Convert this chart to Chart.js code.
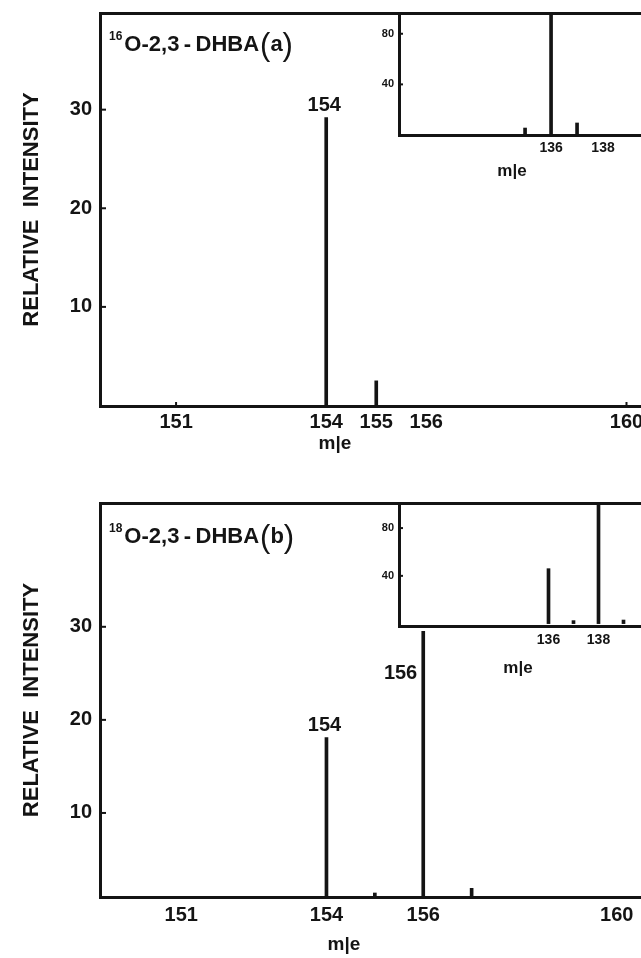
<!DOCTYPE html>
<html>
<head>
<meta charset="utf-8">
<script src="https://cdn.jsdelivr.net/npm/chart.js@4.4.0/dist/chart.umd.min.js"></script>
<style>
  html, body { margin: 0; padding: 0; background: #fff; }
  #page { position: relative; width: 641px; height: 958px; overflow: hidden; background: #fff; }
  .box { position: absolute; }
  .box canvas { display: block; }
</style>
</head>
<body>
<div id="page">
  <div class="box" style="left:0;top:0"><canvas id="main-a" width="641" height="470"></canvas></div>
  <div class="box" style="left:340px;top:0"><canvas id="inset-a" width="301" height="185"></canvas></div>
  <div class="box" style="left:0;top:490px"><canvas id="main-b" width="641" height="468"></canvas></div>
  <div class="box" style="left:340px;top:490px"><canvas id="inset-b" width="301" height="190"></canvas></div>
</div>
<script>
// spectrum (a): 16O-2,3-DHBA
const massA = [154, 155];
const intensityA = [29.2, 2.5];
const labelledA = [154];
const tickMassA = [151, 154, 155, 156, 160];
const insetMassA = [135, 136, 137];
const insetIntensityA = [5.5, 100, 9.5];

// spectrum (b): 18O-2,3-DHBA
const massB = [154, 155, 156, 157];
const intensityB = [18.1, 1.4, 29.5, 1.9];
const labelledB = [154, 156];
const tickMassB = [151, 154, 156, 160];
const insetMassB = [136, 137, 138, 139];
const insetIntensityB = [46, 2.5, 100, 3];

const tickIntensity = [10, 20, 30];
const insetTickMass = [136, 138];
const insetTickIntensity = [40, 80];

const INK = '#141414';
const FAM = "'Liberation Sans Narrow', 'Arial Narrow', 'Liberation Sans', Arial, sans-serif";

// draws the things chart.js has no option for: inward tick marks, peak labels, panel title, m|e
const notes = {
  id: 'notes',
  afterDraw(chart, args, opts) {
    const ctx = chart.ctx;
    const x = chart.scales.x;
    const y = chart.scales.y;
    ctx.save();
    ctx.fillStyle = INK;
    ctx.strokeStyle = INK;
    ctx.lineWidth = 2;

    y.ticks.forEach(t => {
      const py = y.getPixelForValue(t.value);
      ctx.beginPath();
      ctx.moveTo(x.left, py);
      ctx.lineTo(x.left + opts.tickLen, py);
      ctx.stroke();
    });
    (opts.xMarks || []).forEach(v => {
      const px = x.getPixelForValue(v);
      ctx.beginPath();
      ctx.moveTo(px, y.bottom);
      ctx.lineTo(px, y.bottom - 4);
      ctx.stroke();
    });

    const ds = chart.data.datasets[0].data;
    (opts.labelled || []).forEach(m => {
      const pt = ds.find(d => d.x === m);
      const px = x.getPixelForValue(m);
      const py = y.getPixelForValue(pt.y);
      ctx.font = 'bold 20px ' + FAM;
      if (opts.sideLabel === m) {
        ctx.textAlign = 'right';
        ctx.textBaseline = 'middle';
        ctx.fillText(String(m), px - 6, py + 42);
      } else {
        ctx.textAlign = 'center';
        ctx.textBaseline = 'alphabetic';
        ctx.fillText(String(m), px - 2, py - 7);
      }
    });

    if (opts.axisLabel) {
      const a = opts.axisLabel;
      ctx.font = 'bold ' + a.size + 'px ' + FAM;
      ctx.textAlign = 'center';
      ctx.textBaseline = 'middle';
      ctx.fillText('m|e', a.x, a.y);
    }

    if (opts.title) {
      const t = opts.title;
      let cx = t.x;
      ctx.textAlign = 'left';
      ctx.textBaseline = 'alphabetic';
      ctx.font = 'bold 12px ' + FAM;
      ctx.fillText(t.iso, cx, t.y - 11);
      cx += ctx.measureText(t.iso).width + 2;
      ctx.font = 'bold 22px ' + FAM;
      const body = 'O-2,3\u2009-\u2009DHBA';
      ctx.fillText(body, cx, t.y);
      cx += ctx.measureText(body).width + 1;
      ctx.font = '31px ' + FAM;
      ctx.fillText('(', cx, t.y + 4);
      cx += ctx.measureText('(').width;
      ctx.font = 'bold 22px ' + FAM;
      ctx.fillText(t.letter, cx, t.y);
      cx += ctx.measureText(t.letter).width;
      ctx.font = '31px ' + FAM;
      ctx.fillText(')', cx, t.y + 4);
    }
    ctx.restore();
  }
};

function spectrum(id, s) {
  return new Chart(document.getElementById(id), {
    type: 'bar',
    data: {
      datasets: [{
        data: s.mass.map((m, i) => ({ x: m, y: s.intensity[i] })),
        backgroundColor: INK,
        borderWidth: 0,
        barThickness: s.bar
      }]
    },
    options: {
      responsive: false,
      animation: false,
      layout: { padding: { left: 0, right: 0, top: s.top, bottom: 0 } },
      plugins: {
        legend: { display: false },
        tooltip: { enabled: false },
        notes: s.notes
      },
      scales: {
        x: {
          type: 'linear',
          offset: false,
          min: s.xMin,
          max: s.xMax,
          grid: { display: false, drawTicks: false, offset: false },
          border: { color: INK, width: s.axisWidth },
          ticks: {
            color: INK,
            padding: s.xPad,
            font: { family: FAM, size: s.tickSize, weight: 'bold' },
            callback: v => String(v)
          },
          afterBuildTicks: sc => { sc.ticks = s.xTicks.map(v => ({ value: v })); },
          afterFit: sc => { sc.height = s.xHeight; sc.paddingLeft = 0; sc.paddingRight = 0; }
        },
        y: {
          min: s.yMin,
          max: s.yMax,
          grid: { display: false, drawTicks: false },
          border: { color: INK, width: s.axisWidth },
          ticks: {
            color: INK,
            padding: s.yPad,
            font: { family: FAM, size: s.yTickSize, weight: 'bold' },
            callback: v => String(v)
          },
          title: s.yTitle ? {
            display: true,
            text: 'RELATIVE  INTENSITY',
            color: INK,
            font: { family: FAM, size: 22, weight: 'bold' },
            padding: { top: 19, bottom: 0 }
          } : { display: false },
          afterBuildTicks: sc => { sc.ticks = s.yTicks.map(v => ({ value: v })); },
          afterFit: sc => { sc.width = s.yWidth; sc.paddingTop = 0; sc.paddingBottom = 0; }
        },
        top: {
          type: 'linear',
          position: 'top',
          offset: false,
          display: s.topLine,
          min: s.xMin,
          max: s.xMax,
          grid: { display: false, drawTicks: false, offset: false },
          border: { color: INK, width: s.axisWidth },
          ticks: { display: false },
          afterFit: sc => { sc.height = 0; sc.paddingLeft = 0; sc.paddingRight = 0; }
        }
      }
    },
    plugins: [notes]
  });
}

spectrum('main-a', {
  mass: massA, intensity: intensityA, bar: 3,
  xMin: 149.48, xMax: 160.29, xTicks: tickMassA,
  yMin: -0.05, yMax: 39.8, yTicks: tickIntensity,
  top: 13, xHeight: 64, yWidth: 100, xPad: 4, yPad: 8,
  tickSize: 20, yTickSize: 20, axisWidth: 3, topLine: true, yTitle: true,
  notes: {
    tickLen: 6, xMarks: [151, 160], labelled: labelledA,
    axisLabel: { x: 335, y: 444, size: 19 },
    title: { x: 109, y: 51, iso: '16', letter: 'a' }
  }
});

spectrum('inset-a', {
  mass: insetMassA, intensity: insetIntensityA, bar: 3,
  xMin: 130.15, xMax: 139.46, xTicks: insetTickMass,
  yMin: 0, yMax: 96.4, yTicks: insetTickIntensity,
  top: 13, xHeight: 50, yWidth: 59, xPad: 5, yPad: 5,
  tickSize: 14, yTickSize: 11, axisWidth: 3, topLine: false, yTitle: false,
  notes: { tickLen: 4, axisLabel: { x: 172, y: 171, size: 17 } }
});

spectrum('main-b', {
  mass: massB, intensity: intensityB, bar: 3,
  xMin: 149.32, xMax: 160.5, xTicks: tickMassB,
  yMin: 0.97, yMax: 43.3, yTicks: tickIntensity,
  top: 13, xHeight: 61, yWidth: 100, xPad: 6, yPad: 8,
  tickSize: 20, yTickSize: 20, axisWidth: 3, topLine: true, yTitle: true,
  notes: {
    tickLen: 6, labelled: labelledB, sideLabel: 156,
    axisLabel: { x: 344, y: 455, size: 19 },
    title: { x: 109, y: 53, iso: '18', letter: 'b' }
  }
});

spectrum('inset-b', {
  mass: insetMassB, intensity: insetIntensityB, bar: 3,
  xMin: 130.02, xMax: 139.7, xTicks: insetTickMass,
  yMin: -2, yMax: 101, yTicks: insetTickIntensity,
  top: 13, xHeight: 54, yWidth: 59, xPad: 6, yPad: 5,
  tickSize: 14, yTickSize: 11, axisWidth: 3, topLine: false, yTitle: false,
  notes: { tickLen: 4, axisLabel: { x: 178, y: 178, size: 17 } }
});
</script>
</body>
</html>
